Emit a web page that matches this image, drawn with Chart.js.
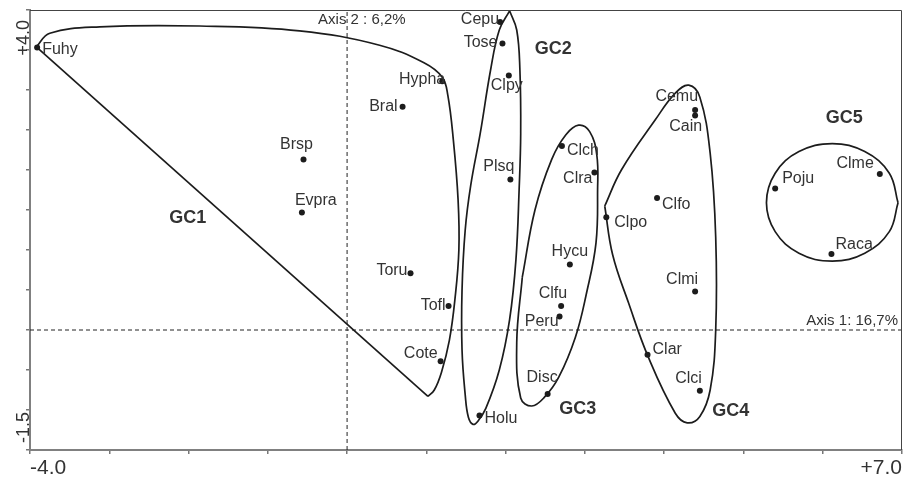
<!DOCTYPE html>
<html>
<head>
<meta charset="utf-8">
<script src="https://cdn.jsdelivr.net/npm/chart.js@4.4.1/dist/chart.umd.min.js"></script>
<style>
  html, body { margin: 0; padding: 0; background: #fff; }
  canvas { display: block; }
</style>
</head>
<body>
<canvas id="chart" width="906" height="480"></canvas>
<script>
// species scores on the two axes
const species = ['Fuhy', 'Hypha', 'Bral', 'Brsp', 'Evpra', 'Toru', 'Tofl', 'Cote',
  'Cepu', 'Tose', 'Clpy', 'Plsq', 'Holu',
  'Clch', 'Clra', 'Hycu', 'Clfu', 'Peru', 'Disc',
  'Cemu', 'Cain', 'Clfo', 'Clpo', 'Clmi', 'Clar', 'Clci',
  'Poju', 'Clme', 'Raca'];
const axis1 = [-3.91, 1.20, 0.70, -0.55, -0.57, 0.80, 1.28, 1.18,
  1.93, 1.96, 2.04, 2.06, 1.67,
  2.71, 3.12, 2.81, 2.70, 2.68, 2.53,
  4.39, 4.39, 3.91, 3.27, 4.39, 3.79, 4.45,
  5.40, 6.72, 6.11];
const axis2 = [3.53, 3.11, 2.79, 2.13, 1.47, 0.71, 0.30, -0.39,
  3.85, 3.58, 3.18, 1.88, -1.07,
  2.30, 1.97, 0.82, 0.30, 0.17, -0.80,
  2.75, 2.68, 1.65, 1.41, 0.48, -0.31, -0.76,
  1.77, 1.95, 0.95];

// group outlines
const gc1Curve = [[-3.92, 3.54], [-3.75, 3.71], [-3.12, 3.79], [-1.86, 3.80], [-0.60, 3.74],
  [0.41, 3.56], [0.97, 3.34], [1.20, 3.16], [1.27, 2.94], [1.34, 2.38], [1.40, 1.63],
  [1.41, 1.00], [1.36, 0.38], [1.29, -0.13], [1.19, -0.53], [1.10, -0.75], [1.02, -0.83]];
const gc1Edge = [[1.02, -0.83], [-3.92, 3.54]];
const gc2 = [[2.05, 3.99], [2.14, 3.75], [2.18, 3.25], [2.19, 2.46], [2.17, 1.75], [2.13, 0.88],
  [2.05, 0.13], [1.92, -0.50], [1.75, -0.98], [1.65, -1.14], [1.59, -1.18], [1.53, -1.09],
  [1.49, -0.81], [1.45, -0.25], [1.45, 0.50], [1.49, 1.25], [1.56, 1.81], [1.68, 2.46],
  [1.81, 3.25], [1.92, 3.75], [2.05, 3.99]];
const gc3 = [[2.21, 0.66], [2.37, 1.50], [2.58, 2.13], [2.76, 2.44], [2.92, 2.56], [3.06, 2.48],
  [3.15, 2.19], [3.16, 1.75], [3.14, 1.09], [3.02, 0.46], [2.88, -0.09], [2.67, -0.59],
  [2.49, -0.84], [2.33, -0.95], [2.19, -0.85], [2.14, -0.16], [2.21, 0.66]];
const gc4 = [[3.25, 1.55], [3.46, 2.00], [3.89, 2.63], [4.14, 2.96], [4.31, 3.06], [4.45, 2.91],
  [4.58, 2.21], [4.65, 1.16], [4.65, 0.00], [4.58, -0.75], [4.45, -1.08], [4.29, -1.16],
  [4.14, -1.04], [3.80, -0.34], [3.55, 0.34], [3.35, 0.94], [3.25, 1.55]];
const gc5 = [[6.95, 1.59], [6.84, 1.96], [6.53, 2.23], [6.12, 2.33], [5.70, 2.23], [5.40, 1.96],
  [5.29, 1.59], [5.40, 1.23], [5.70, 0.96], [6.12, 0.86], [6.53, 0.96], [6.84, 1.23], [6.95, 1.59]];

const groupNames = ['GC1', 'GC2', 'GC3', 'GC4', 'GC5'];
const groupAnchor = [[-2.01, 1.40], [2.60, 3.51], [2.91, -0.99], [4.84, -1.01], [6.27, 2.65]];

const xRange = [-4, 7], yRange = [-1.5, 4];
const xEndLabels = ['-4.0', '+7.0'];
const yEndLabels = ['-1.5', '+4.0'];
const axisNames = ['Axis 1: 16,7%', 'Axis 2 : 6,2%'];

// label placement next to each dot: [dx, dy, align]
const labelPlace = {
  Fuhy: [5, 2, 'left'], Hypha: [3, -2, 'right'], Bral: [-5, 0, 'right'], Brsp: [-7, -15, 'center'],
  Evpra: [-7, -12, 'left'], Toru: [-3, -3, 'right'], Tofl: [-3, 0, 'right'], Cote: [-3, -8, 'right'],
  Cepu: [-1, -2, 'right'], Tose: [-5, -1, 'right'], Clpy: [-18, 10, 'left'], Plsq: [4, -13, 'right'],
  Holu: [5, 3, 'left'], Clch: [5, 5, 'left'], Clra: [-2, 6, 'right'], Hycu: [0, -13, 'center'],
  Clfu: [6, -12, 'right'], Peru: [-1, 5, 'right'], Disc: [10, -16, 'right'], Cemu: [3, -13, 'right'],
  Cain: [7, 11, 'right'], Clfo: [5, 7, 'left'], Clpo: [8, 5, 'left'], Clmi: [3, -12, 'right'],
  Clar: [5, -5, 'left'], Clci: [2, -12, 'right'], Poju: [7, -10, 'left'], Clme: [-6, -10, 'right'],
  Raca: [4, -9, 'left']
};

const ink = '#1c1c1c';
const textCol = '#333';
const toXY = arr => arr.map(p => ({ x: p[0], y: p[1] }));

function outline(arr, tension) {
  return { data: toXY(arr), showLine: true, pointRadius: 0, borderColor: ink,
    borderWidth: 1.7, tension: tension, fill: false };
}

const textPlugin = {
  id: 'texts',
  afterDatasetsDraw(chart) {
    const { ctx, chartArea: a, scales: { x, y } } = chart;
    ctx.save();
    // frame on top and right
    ctx.strokeStyle = '#444';
    ctx.lineWidth = 1;
    ctx.beginPath();
    ctx.moveTo(a.left, a.top + 0.5); ctx.lineTo(a.right - 0.5, a.top + 0.5); ctx.lineTo(a.right - 0.5, a.bottom);
    ctx.stroke();

    ctx.fillStyle = textCol;
    ctx.textBaseline = 'middle';
    ctx.font = '16px "Liberation Sans", Arial, sans-serif';
    species.forEach((s, i) => {
      const [dx, dy, al] = labelPlace[s];
      ctx.textAlign = al;
      ctx.fillText(s, x.getPixelForValue(axis1[i]) + dx, y.getPixelForValue(axis2[i]) + dy);
    });

    ctx.font = 'bold 18px "Liberation Sans", Arial, sans-serif';
    ctx.textAlign = 'center';
    groupNames.forEach((g, i) => {
      ctx.fillText(g, x.getPixelForValue(groupAnchor[i][0]), y.getPixelForValue(groupAnchor[i][1]));
    });

    ctx.font = '15px "Liberation Sans", Arial, sans-serif';
    ctx.textAlign = 'right';
    ctx.fillText(axisNames[0], a.right - 4, y.getPixelForValue(0) - 9);
    ctx.textAlign = 'left';
    ctx.fillText(axisNames[1], x.getPixelForValue(0) - 29, a.top + 10);

    // end labels of the vertical axis, turned
    ctx.font = '18px "Liberation Sans", Arial, sans-serif';
    ctx.textBaseline = 'alphabetic';
    ctx.save();
    ctx.translate(29, y.getPixelForValue(yRange[0]) - 7);
    ctx.rotate(-Math.PI / 2);
    ctx.textAlign = 'left';
    ctx.fillText(yEndLabels[0], 0, 0);
    ctx.restore();
    ctx.save();
    ctx.translate(29, y.getPixelForValue(yRange[1]) + 10);
    ctx.rotate(-Math.PI / 2);
    ctx.textAlign = 'right';
    ctx.fillText(yEndLabels[1], 0, 0);
    ctx.restore();
    ctx.restore();
  }
};

new Chart(document.getElementById('chart'), {
  type: 'scatter',
  data: {
    datasets: [
      { data: species.map((s, i) => ({ x: axis1[i], y: axis2[i] })), pointRadius: 3,
        pointBackgroundColor: ink, pointBorderWidth: 0, showLine: false },
      outline(gc1Curve, 0.4),
      outline(gc1Edge, 0),
      outline(gc2, 0.4),
      outline(gc3, 0.4),
      outline(gc4, 0.4),
      outline(gc5, 0.4),
      { data: [{ x: 0, y: yRange[0] }, { x: 0, y: yRange[1] }], showLine: true, pointRadius: 0,
        borderColor: '#222', borderWidth: 1, borderDash: [4, 3] },
      { data: [{ x: xRange[0], y: 0 }, { x: xRange[1], y: 0 }], showLine: true, pointRadius: 0,
        borderColor: '#222', borderWidth: 1, borderDash: [4, 3] }
    ]
  },
  options: {
    responsive: false,
    animation: false,
    layout: { padding: { top: 10, right: 2, left: 0, bottom: 0 } },
    plugins: { legend: { display: false }, tooltip: { enabled: false } },
    scales: {
      x: {
        type: 'linear', min: xRange[0], max: xRange[1],
        afterFit: s => { s.height = 30; },
        grid: { display: true, drawOnChartArea: false, drawTicks: true, tickLength: 4, color: '#777', lineWidth: 1.5 },
        border: { display: true, color: '#808080', width: 2 },
        ticks: {
          stepSize: 1, autoSkip: false, maxRotation: 0, align: 'inner', padding: 2, color: textCol,
          font: { family: '"Liberation Sans", Arial, sans-serif', size: 21 },
          callback: v => v === xRange[0] ? xEndLabels[0] : (v === xRange[1] ? xEndLabels[1] : '')
        }
      },
      y: {
        type: 'linear', min: yRange[0], max: yRange[1],
        afterFit: s => { s.width = 30; },
        grid: { display: true, drawOnChartArea: false, drawTicks: true, tickLength: 4, color: '#777', lineWidth: 1.5 },
        border: { display: true, color: '#808080', width: 2 },
        ticks: { stepSize: 0.5, display: false }
      }
    }
  },
  plugins: [textPlugin]
});
</script>
</body>
</html>
